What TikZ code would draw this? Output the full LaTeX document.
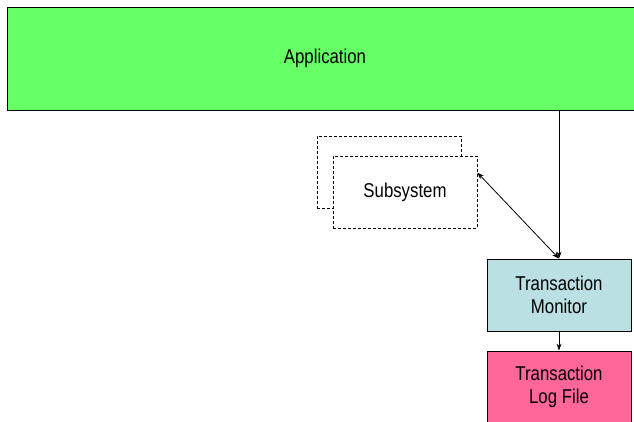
\documentclass[tikz,border=0pt]{standalone}
\usepackage{fontspec}
\setmainfont{Liberation Sans}[FakeStretch=0.84]
\usepackage{tikz}
\usetikzlibrary{arrows.meta}

\definecolor{appgreen}{HTML}{66FF66}
\definecolor{monblue}{HTML}{BBE0E3}
\definecolor{logpink}{HTML}{FF6699}

\begin{document}
\begin{tikzpicture}[x=1pt, y=-1pt, font=\fontsize{20}{23}\selectfont,
    box/.style={draw, line width=0.8pt, rectangle, inner sep=0pt, align=center,
                minimum width=144pt, minimum height=72pt},
    dashbox/.style={box, fill=white, dash pattern=on 3pt off 2pt},
    conn/.style={line width=0.8pt, -{Stealth[length=7pt, width=5pt]}}]
    \useasboundingbox (0,0) rectangle (634,422);
    \clip (0,0) rectangle (634,422);

    % Application (runs off the right edge)
    \node[box, fill=appgreen, minimum width=636pt, minimum height=103pt] (app) at (325, 58.5) {Application};

    % Subsystem, two stacked copies
    \node[dashbox] (subback) at (389, 172) {};
    \node[dashbox] (sub) at (405, 192) {Subsystem};

    % Monitor and log file
    \node[box, fill=monblue] (tm) at (559, 295) {Transaction\\Monitor};
    \node[box, fill=logpink] (log) at (559, 387) {Transaction\\Log File};

    % Connectors
    \draw[conn] (tm.north |- app.south) -- (tm.north);
    \draw[conn, {Stealth[length=7pt, width=5pt]}-{Stealth[length=7pt, width=5pt]}] (sub.15) -- (tm.north);
    \draw[conn] (tm.south) -- (log.north);
\end{tikzpicture}
\end{document}
